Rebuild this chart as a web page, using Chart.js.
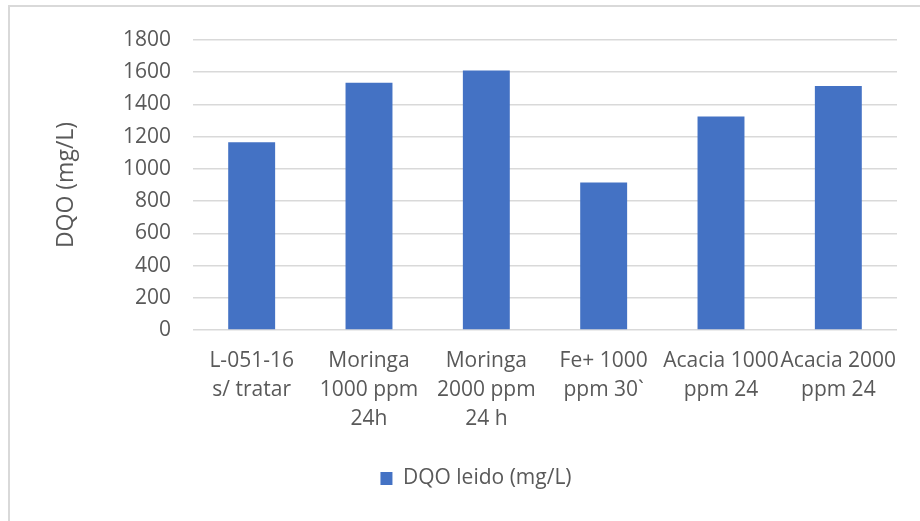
<!DOCTYPE html>
<html>
<head>
<meta charset="utf-8">
<script src="https://cdn.jsdelivr.net/npm/chart.js@4/dist/chart.umd.min.js"></script>
<style>
  html, body { margin: 0; padding: 0; background: #ffffff; }
  #wrap { width: 920px; height: 521px; position: relative; }
</style>
</head>
<body>
<div id="wrap"><canvas id="c" width="920" height="521"></canvas></div>
<script>
// Treatments (category labels, split into lines)
const categories = [
  ["L-051-16", "s/ tratar"],
  ["Moringa", "1000 ppm", "24h"],
  ["Moringa", "2000 ppm", "24 h"],
  ["Fe+ 1000", "ppm 30`"],
  ["Acacia 1000", "ppm 24"],
  ["Acacia 2000", "ppm 24"]
];
// DQO measured per treatment (mg/L)
const dqoLeido = [1165, 1535, 1610, 915, 1325, 1515];
// Value axis ticks
const yTicks = [0, 200, 400, 600, 800, 1000, 1200, 1400, 1600, 1800];

const seriesName = "DQO leido (mg/L)";
const axisTitle = "DQO (mg/L)";

const FONT = "'Open Sans', 'Liberation Sans', sans-serif";
const TEXT = "#595959";
const GRID = "#d9d9d9";
const BAR = "#4472c4";

// Light frame around the chart (left and top edges)
const framePlugin = {
  id: 'frame',
  beforeDraw(chart) {
    const ctx = chart.ctx;
    ctx.save();
    ctx.strokeStyle = GRID;
    ctx.lineWidth = 2;
    ctx.beginPath();
    ctx.moveTo(9, 521);
    ctx.lineTo(9, 6);
    ctx.lineTo(920, 6);
    ctx.stroke();
    ctx.restore();
  }
};

new Chart(document.getElementById('c'), {
  type: 'bar',
  data: {
    labels: categories,
    datasets: [{
      label: seriesName,
      data: dqoLeido,
      backgroundColor: BAR,
      borderWidth: 0,
      barPercentage: 0.4,
      categoryPercentage: 1.0
    }]
  },
  options: {
    responsive: false,
    animation: false,
    events: [],
    layout: { padding: { left: 55, right: 23, top: 40, bottom: 22 } },
    plugins: {
      legend: {
        position: 'bottom',
        labels: {
          boxWidth: 12,
          boxHeight: 13,
          padding: 10,
          color: TEXT,
          font: { family: FONT, size: 21 }
        }
      },
      tooltip: { enabled: false },
      title: { display: false }
    },
    scales: {
      x: {
        grid: { display: false, drawTicks: false },
        border: { display: false },
        ticks: {
          color: TEXT,
          font: { family: FONT, size: 21, lineHeight: 1.38 },
          padding: 17,
          maxRotation: 0,
          minRotation: 0,
          autoSkip: false
        },
        afterFit(scale) { scale.height = 128; }
      },
      y: {
        min: 0,
        max: 1800,
        afterBuildTicks(scale) { scale.ticks = yTicks.map(v => ({ value: v })); },
        grid: { color: GRID, lineWidth: 1.5, drawTicks: false },
        border: { display: false },
        ticks: {
          color: TEXT,
          font: { family: FONT, size: 21 },
          padding: 22,
          callback: (v) => String(v)
        },
        title: {
          display: true,
          text: axisTitle,
          color: TEXT,
          font: { family: FONT, size: 23 },
          padding: { top: -2, bottom: 0 }
        },
        afterFit(scale) { scale.width = 138; }
      }
    }
  },
  plugins: [framePlugin]
});
</script>
</body>
</html>
